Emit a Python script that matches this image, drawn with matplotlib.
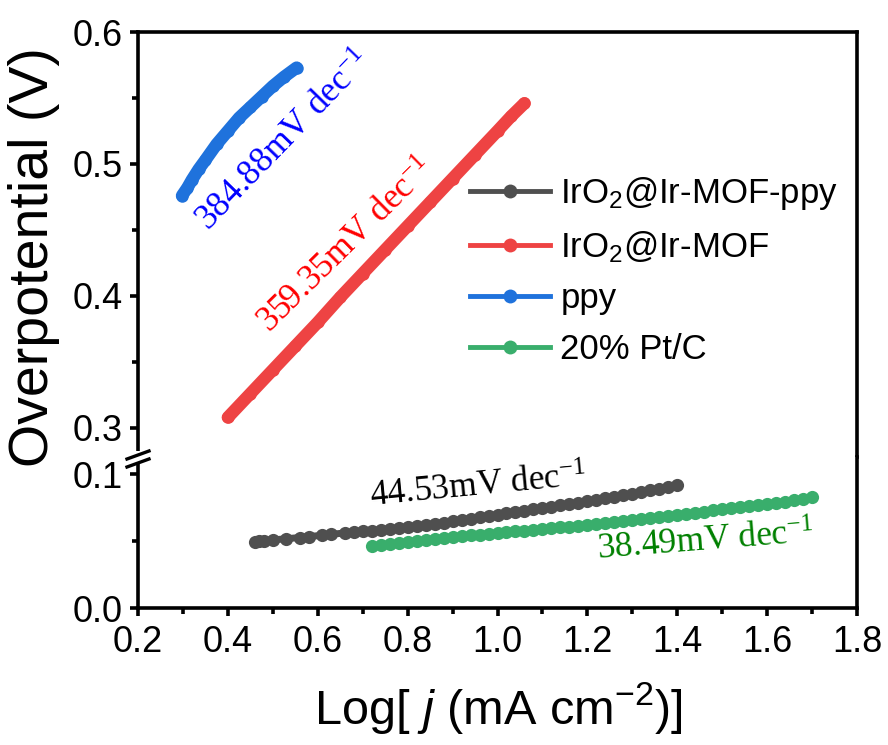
import matplotlib
matplotlib.use("Agg")
import matplotlib.pyplot as plt
from matplotlib.lines import Line2D
from matplotlib.patches import Rectangle
from matplotlib.ticker import MultipleLocator

plt.rcParams['font.family'] = ['Liberation Sans', 'DejaVu Sans']
plt.rcParams['mathtext.fontset'] = 'custom'
plt.rcParams['mathtext.rm'] = 'Liberation Sans'
plt.rcParams['mathtext.it'] = 'Liberation Sans:italic'

# ---------------- data ----------------
labels = ["IrO$\\mathregular{_2}$@Ir-MOF-ppy", "IrO$\\mathregular{_2}$@Ir-MOF", "ppy", "20% Pt/C"]
colors = ["#4f4f4f", "#ee4343", "#1f72dc", "#39ae6c"]

black_x = [0.46, 0.47, 0.48, 0.50, 0.53, 0.56, 0.58, 0.61, 0.63, 0.66, 0.68, 0.70, 0.72, 0.74,
           0.76, 0.78, 0.80, 0.82, 0.84, 0.86, 0.88, 0.90, 0.92, 0.94, 0.96, 0.98, 1.00, 1.02,
           1.04, 1.06, 1.08, 1.10, 1.12, 1.14, 1.16, 1.18, 1.20, 1.22, 1.24, 1.26, 1.28, 1.30,
           1.32, 1.34, 1.36, 1.38, 1.40]
black_y = [0.0495, 0.0499, 0.0503, 0.0508, 0.0517, 0.0526, 0.0533, 0.0543, 0.0550, 0.0560, 0.0566,
           0.0572, 0.0578, 0.0584, 0.0590, 0.0596, 0.0602, 0.0610, 0.0619, 0.0628, 0.0638, 0.0648,
           0.0658, 0.0667, 0.0676, 0.0686, 0.0696, 0.0706, 0.0716, 0.0726, 0.0736, 0.0746, 0.0756,
           0.0766, 0.0776, 0.0786, 0.0796, 0.0807, 0.0818, 0.0829, 0.0840, 0.0852, 0.0864, 0.0877,
           0.0890, 0.0904, 0.0920]

red_x = [0.40, 0.45, 0.50, 0.55, 0.60, 0.65, 0.70, 0.75, 0.80, 0.85, 0.90, 0.95, 1.00, 1.03, 1.06]
red_y = [0.308, 0.326, 0.344, 0.362, 0.380, 0.399, 0.417, 0.435, 0.453, 0.471, 0.489, 0.507,
         0.525, 0.536, 0.546]

blue_x = [0.298, 0.31, 0.32, 0.335, 0.35, 0.375, 0.40, 0.425, 0.45, 0.475, 0.50, 0.525, 0.553]
blue_y = [0.476, 0.482, 0.488, 0.496, 0.503, 0.515, 0.525, 0.535, 0.543, 0.551, 0.559, 0.566, 0.573]

green_x = [0.72, 0.74, 0.76, 0.78, 0.80, 0.82, 0.84, 0.86, 0.88, 0.90, 0.92, 0.94, 0.96, 0.98,
           1.00, 1.02, 1.04, 1.06, 1.08, 1.10, 1.12, 1.14, 1.16, 1.18, 1.20, 1.22, 1.24, 1.26,
           1.28, 1.30, 1.32, 1.34, 1.36, 1.38, 1.40, 1.42, 1.44, 1.46, 1.48, 1.50, 1.52, 1.54,
           1.56, 1.58, 1.60, 1.62, 1.64, 1.66, 1.68, 1.70]
green_y = [0.0460, 0.0467, 0.0474, 0.0482, 0.0490, 0.0498, 0.0506, 0.0514, 0.0522, 0.0530, 0.0536,
           0.0542, 0.0548, 0.0554, 0.0560, 0.0566, 0.0572, 0.0578, 0.0584, 0.0590, 0.0596, 0.0602,
           0.0608, 0.0614, 0.0620, 0.0627, 0.0634, 0.0641, 0.0648, 0.0656, 0.0664, 0.0672, 0.0680,
           0.0688, 0.0696, 0.0704, 0.0712, 0.0720, 0.0728, 0.0736, 0.0744, 0.0752, 0.0760, 0.0768,
           0.0776, 0.0784, 0.0794, 0.0804, 0.0814, 0.0826]

slope_texts = ["44.53mV dec$\\mathregular{^{-1}}$", "359.35mV dec$\\mathregular{^{-1}}$",
               "384.88mV dec$\\mathregular{^{-1}}$", "38.49mV dec$\\mathregular{^{-1}}$"]
slope_colors = ["black", "red", "blue", "#008000"]

# ---------------- figure ----------------
W, H = 888, 745
fig = plt.figure(figsize=(W / 100, H / 100), dpi=100)

def fx(px):
    return px / W

def fy(py):
    return 1 - py / H

L, R = fx(138), fx(857)
ybrk = 457
ax_top = fig.add_axes([L, fy(ybrk), R - L, fy(32) - fy(ybrk)])
ax_bot = fig.add_axes([L, fy(608), R - L, fy(ybrk) - fy(608)])

spw = 2.6
for ax in (ax_top, ax_bot):
    for s in ax.spines.values():
        s.set_linewidth(spw)
    ax.set_xlim(0.2, 1.8)
    ax.tick_params(axis='both', which='major', direction='out', length=6, width=spw,
                   labelsize=26, right=False, top=False)
    ax.tick_params(axis='both', which='minor', direction='out', length=4, width=spw,
                   right=False, top=False)
    ax.xaxis.set_major_locator(MultipleLocator(0.2))
    ax.xaxis.set_minor_locator(MultipleLocator(0.1))
    ax.tick_params(axis='y', which='major', pad=5)
    ax.tick_params(axis='x', which='major', pad=6)

ax_top.spines['bottom'].set_visible(False)
ax_bot.spines['top'].set_visible(False)
ax_top.tick_params(axis='x', which='both', bottom=False, labelbottom=False)

ax_top.set_ylim(0.278, 0.6)
ax_top.yaxis.set_minor_locator(MultipleLocator(0.05))
ax_top.set_yticks([0.3, 0.4, 0.5, 0.6])
ax_top.set_yticklabels(["0.3", "0.4", "0.5", "0.6"])

ax_bot.set_ylim(0.0, 0.1127)
ax_bot.set_yticks([0.0, 0.1])
ax_bot.set_yticklabels(["0.0", "0.1"])
ax_bot.yaxis.set_minor_locator(MultipleLocator(0.05))
ax_bot.set_xticks([0.2, 0.4, 0.6, 0.8, 1.0, 1.2, 1.4, 1.6, 1.8])
ax_bot.set_xticklabels(["0.2", "0.4", "0.6", "0.8", "1.0", "1.2", "1.4", "1.6", "1.8"])

# series
ax_bot.plot(black_x, black_y, '-o', color=colors[0], lw=5, ms=9.5, mew=0,
            solid_capstyle='round', clip_on=False, zorder=3)
ax_bot.plot(green_x, green_y, '-o', color=colors[3], lw=5, ms=9.5, mew=0,
            solid_capstyle='round', clip_on=False, zorder=3)
ax_top.plot(red_x, red_y, '-o', color=colors[1], lw=9, ms=9, mew=0,
            solid_capstyle='round', solid_joinstyle='round', zorder=3)
ax_top.plot(blue_x, blue_y, '-o', color=colors[2], lw=9, ms=9, mew=0,
            solid_capstyle='round', solid_joinstyle='round', zorder=3)

# slope annotations (positions in figure pixels)
serif = ['Liberation Serif', 'DejaVu Serif']
fig.text(fx(478), fy(488), slope_texts[0], color=slope_colors[0], fontsize=25.5, family=serif,
         rotation=5.5, ha='center', va='center', rotation_mode='anchor')
fig.text(fx(347), fy(247), slope_texts[1], color=slope_colors[1], fontsize=25.5, family=serif,
         rotation=44.6, ha='center', va='center', rotation_mode='anchor')
fig.text(fx(285), fy(142), slope_texts[2], color=slope_colors[2], fontsize=25.5, family=serif,
         rotation=46, ha='center', va='center', rotation_mode='anchor')
fig.text(fx(706), fy(543), slope_texts[3], color=slope_colors[3], fontsize=25.5, family=serif,
         rotation=4.5, ha='center', va='center', rotation_mode='anchor')

# legend
handles = [Line2D([], [], color=c, lw=3.5, marker='o', ms=10, mew=0) for c in colors]
fig.legend(handles, labels, loc='upper left', bbox_to_anchor=(fx(470), fy(175)),
           frameon=False, fontsize=25, handlelength=2.3, handletextpad=0.3,
           labelspacing=0.5, borderpad=0, borderaxespad=0)

# axis labels
fig.text(fx(34), fy(257), "Overpotential (V)", rotation=90, fontsize=40,
         ha='center', va='center')
fig.text(fx(498), fy(708), "Log[ $\\it{j}$ (mA cm$^{-2}$)]", fontsize=35,
         ha='center', va='center')

# axis break marks on the left spine
fig.add_artist(Rectangle((fx(133), fy(462)), fx(10), fy(451) - fy(462),
                         facecolor='white', edgecolor='none', transform=fig.transFigure,
                         zorder=5))
for dy in (0, 8):
    fig.add_artist(Line2D([fx(127), fx(149)], [fy(459 + dy), fy(451 + dy)],
                          color='black', lw=2.4, transform=fig.transFigure, zorder=6))

fig.savefig("out.png", dpi=100)
